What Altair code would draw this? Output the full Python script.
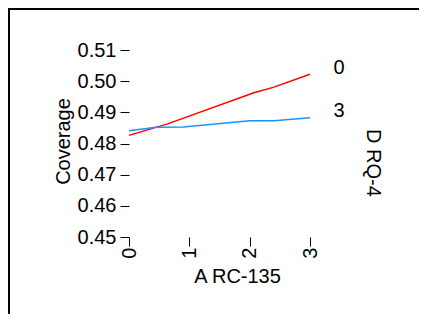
import altair as alt
import pandas as pd

# Data
x_red = [0, 0.64, 2.07, 2.39, 3]
y_red = [0.4826, 0.4863, 0.4963, 0.4980, 0.5022]
x_blue = [0, 0.45, 0.9, 2.0, 2.4, 3]
y_blue = [0.4841, 0.4852, 0.4853, 0.4873, 0.4873, 0.4883]
series_names = ["0", "3"]
series_colors = ["#FF0000", "#1E90FF"]
x_ticks = [0, 1, 2, 3]
y_ticks = [0.45, 0.46, 0.47, 0.48, 0.49, 0.50, 0.51]

FONT = "Liberation Sans"
FS = 20

df = pd.concat([
    pd.DataFrame({"x": x_red, "y": y_red, "s": series_names[0]}),
    pd.DataFrame({"x": x_blue, "y": y_blue, "s": series_names[1]}),
], ignore_index=True)

lines = alt.Chart(df).mark_line(strokeWidth=1.5).encode(
    x=alt.X("x:Q",
            scale=alt.Scale(domain=[0, 3], nice=False, zero=False),
            axis=alt.Axis(values=x_ticks, title="A RC-135", grid=False, domain=False,
                          tickSize=9, tickColor="black", labelAngle=270,
                          labelAlign="right", labelBaseline="middle", labelPadding=1,
                          labelFontSize=FS, labelFont=FONT, labelColor="black",
                          labelOverlap=False, labelFlush=False,
                          titleFontSize=FS, titleFont=FONT, titleFontWeight="normal",
                          titleColor="black", titleX=108, titleY=45,
                          titleAlign="center", titleBaseline="alphabetic")),
    y=alt.Y("y:Q",
            scale=alt.Scale(domain=[0.45, 0.51], nice=False, zero=False),
            axis=alt.Axis(values=y_ticks, format=".2f", title="Coverage", grid=False,
                          domain=False, tickSize=9, tickColor="black",
                          labelPadding=4, labelBaseline="middle",
                          labelFontSize=FS, labelFont=FONT, labelColor="black",
                          labelOverlap=False, labelFlush=False,
                          titleFontSize=FS, titleFont=FONT, titleFontWeight="normal",
                          titleColor="black", titleAngle=270, titleX=-59.5, titleY=91,
                          titleAlign="center", titleBaseline="alphabetic")),
    color=alt.Color("s:N", scale=alt.Scale(domain=series_names, range=series_colors),
                    legend=None),
    order="x:Q",
)

lab0 = alt.Chart(pd.DataFrame({"t": [series_names[0]]})).mark_text(
    fontSize=FS, font=FONT, color="black", align="center", baseline="middle"
).encode(text="t:N", x=alt.value(210), y=alt.value(18))

lab3 = alt.Chart(pd.DataFrame({"t": [series_names[1]]})).mark_text(
    fontSize=FS, font=FONT, color="black", align="center", baseline="middle"
).encode(text="t:N", x=alt.value(210), y=alt.value(61))

legend_title = alt.Chart(pd.DataFrame({"t": ["D RQ-4"]})).mark_text(
    fontSize=FS, font=FONT, color="black", align="center", baseline="middle", angle=90
).encode(text="t:N", x=alt.value(244), y=alt.value(113))

frame_top = alt.Chart(pd.DataFrame({"a": [0]})).mark_rule(
    color="black", strokeWidth=2
).encode(x=alt.value(-120), x2=alt.value(400), y=alt.value(-41))

frame_left = alt.Chart(pd.DataFrame({"a": [0]})).mark_rule(
    color="black", strokeWidth=2
).encode(x=alt.value(-120), y=alt.value(-42), y2=alt.value(400))

chart = alt.layer(frame_top, frame_left, lines, lab0, lab3, legend_title).properties(
    width=181, height=187,
    autosize=alt.AutoSizeParams(type="none"),
    padding={"left": 121, "top": 42, "right": 109, "bottom": 77},
    background="white",
).configure_view(stroke=None)

chart.save("out.html", embed_options={"renderer": "svg", "actions": False})
